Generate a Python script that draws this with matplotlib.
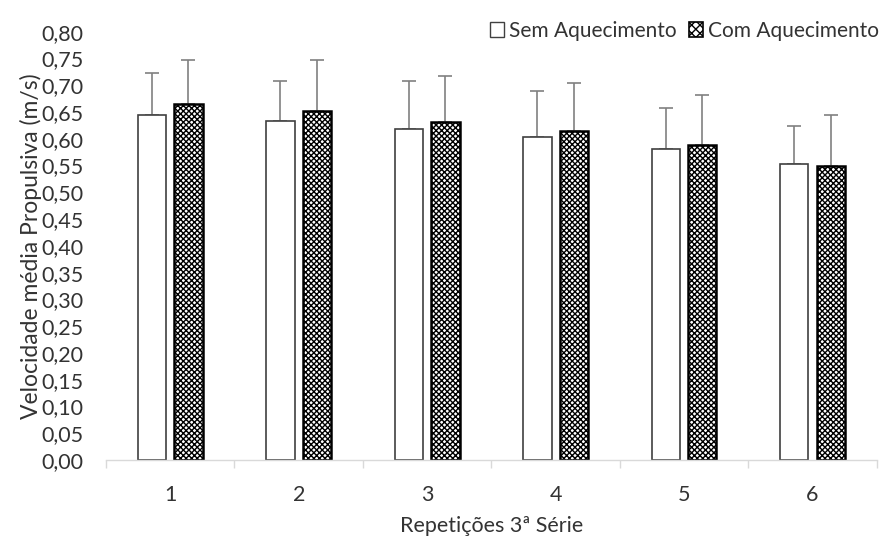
import matplotlib
matplotlib.use("Agg")
import matplotlib.pyplot as plt
from matplotlib.patches import Patch
from matplotlib.ticker import FixedLocator, FuncFormatter
import numpy as np

plt.rcParams['font.family'] = ['Lato', 'DejaVu Sans']
plt.rcParams['hatch.linewidth'] = 1.0

categories = ["1", "2", "3", "4", "5", "6"]
sem_mean = [0.644, 0.633, 0.618, 0.603, 0.580, 0.553]
sem_sd = [0.079, 0.075, 0.090, 0.086, 0.078, 0.071]
com_mean = [0.665, 0.652, 0.632, 0.615, 0.588, 0.550]
com_sd = [0.082, 0.095, 0.086, 0.089, 0.094, 0.094]
series_names = ["Sem Aquecimento", "Com Aquecimento"]
y_label = "Velocidade média Propulsiva (m/s)"
x_label = "Repetições 3ª Série"

fig = plt.figure(figsize=(8.91, 5.43), dpi=100)
ax = fig.add_axes([0.119, 0.1529, 0.865, 0.7887])

x = np.arange(1, len(categories) + 1)
w = 0.22
off = 0.142

ax.bar(x - off, sem_mean, width=w, color="white", edgecolor="#404040",
       linewidth=1.2, zorder=2)
ax.bar(x + off, com_mean, width=w, color="white", edgecolor="black",
       linewidth=1.8, hatch="xxxxxx", zorder=2)

zeros = [0] * len(categories)
ax.errorbar(x - off, sem_mean, yerr=[zeros, sem_sd], fmt="none",
            ecolor="#808080", elinewidth=1.2, capsize=5, capthick=1.2, zorder=1)
ax.errorbar(x + off, com_mean, yerr=[zeros, com_sd], fmt="none",
            ecolor="#808080", elinewidth=1.2, capsize=5, capthick=1.2, zorder=1)

ax.set_xlim(0.5, len(categories) + 0.5)
ax.set_ylim(0, 0.80)
ax.set_yticks(np.arange(0, 0.801, 0.05))
ax.yaxis.set_major_formatter(FuncFormatter(lambda v, p: f"{v:.2f}".replace(".", ",")))
ax.set_xticks(x)
ax.set_xticklabels(categories)
ax.xaxis.set_minor_locator(FixedLocator(np.arange(0.5, len(categories) + 1, 1.0)))
ax.tick_params(axis="x", which="major", length=0, labelsize=15.5, pad=18, labelcolor="#333333")
ax.tick_params(axis="x", which="minor", length=6, width=1, color="#d9d9d9")
ax.tick_params(axis="y", length=0, labelsize=15.5, pad=16, labelcolor="#333333")

for s in ["left", "top", "right"]:
    ax.spines[s].set_visible(False)
ax.spines["bottom"].set_color("#d9d9d9")
ax.spines["bottom"].set_linewidth(1)

ax.set_ylabel(y_label, fontsize=16.5, color="#333333", labelpad=0)
ax.set_xlabel(x_label, fontsize=15.5, color="#333333", labelpad=8)

handles = [
    Patch(facecolor="white", edgecolor="#404040", linewidth=1.0, label=series_names[0]),
    Patch(facecolor="white", edgecolor="black", linewidth=1.2, hatch="xxxx", label=series_names[1]),
]
fig.legend(handles=handles, loc="upper right", bbox_to_anchor=(1.0, 0.985), ncol=2,
           frameon=False, fontsize=15, handlelength=0.7, handleheight=0.7,
           handletextpad=0.2, columnspacing=0.6, borderaxespad=0.2,
           labelcolor="#333333")

fig.savefig("out.png", dpi=100)
